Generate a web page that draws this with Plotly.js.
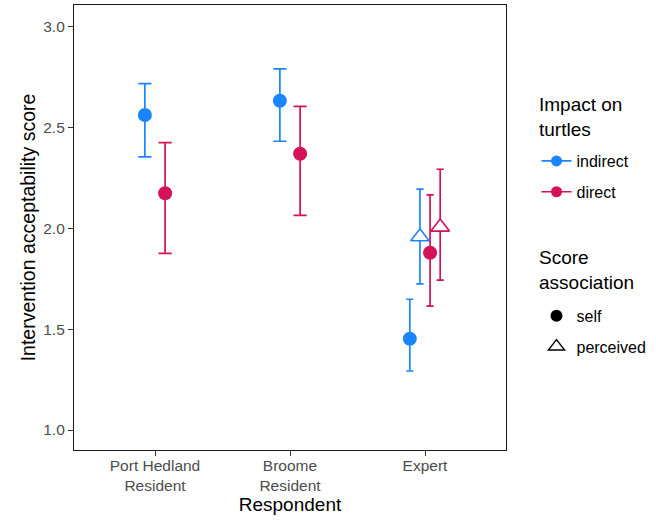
<!DOCTYPE html>
<html>
<head>
<meta charset="utf-8">
<script src="https://cdn.plot.ly/plotly-3.0.1.min.js"></script>
<style>
html,body{margin:0;padding:0;background:#fff;}
#chart{width:656px;height:522px;}
</style>
</head>
<body>
<div id="chart"></div>
<script>
// ---- data ----
var respondents = ['Port Hedland<br>Resident', 'Broome<br>Resident', 'Expert'];
var impactLevels = ['indirect', 'direct'];
var scoreLevels = ['self', 'perceived'];
var impactTitle = 'Impact on<br>turtles';
var scoreTitle = 'Score<br>association';

// indirect impact, self score
var indirectSelfMean  = [2.563, 2.634, 1.453];
var indirectSelfLow   = [2.355, 2.433, 1.293];
var indirectSelfHigh  = [2.719, 2.792, 1.649];
// direct impact, self score
var directSelfMean    = [2.175, 2.371, 1.880];
var directSelfLow     = [1.877, 2.065, 1.615];
var directSelfHigh    = [2.426, 2.606, 2.167];
// indirect impact, perceived score (Expert only)
var indirectPercMean  = [null, null, 1.959];
var indirectPercLow   = [null, null, 1.725];
var indirectPercHigh  = [null, null, 2.195];
// direct impact, perceived score (Expert only)
var directPercMean    = [null, null, 2.007];
var directPercLow     = [null, null, 1.744];
var directPercHigh    = [null, null, 2.294];

var colors = {indirect: '#1A85FF', direct: '#D41159'};

var series = [
  {impact: 'indirect', score: 'self',      mean: indirectSelfMean, low: indirectSelfLow, high: indirectSelfHigh},
  {impact: 'indirect', score: 'perceived', mean: indirectPercMean, low: indirectPercLow, high: indirectPercHigh},
  {impact: 'direct',   score: 'self',      mean: directSelfMean,   low: directSelfLow,   high: directSelfHigh},
  {impact: 'direct',   score: 'perceived', mean: directPercMean,   low: directPercLow,   high: directPercHigh}
];

var dodgeWidth = 0.3;
var traces = [];

respondents.forEach(function (resp, i) {
  var present = series.filter(function (s) { return s.mean[i] !== null; });
  var n = present.length;
  var slot = dodgeWidth / n;
  present.forEach(function (s, k) {
    var off = -dodgeWidth / 2 + slot * (k + 0.5);
    var col = colors[s.impact];
    var isSelf = s.score === 'self';
    traces.push({
      type: 'scatter',
      mode: 'markers',
      x: [i + off],
      y: [s.mean[i]],
      showlegend: false,
      hoverinfo: 'x+y',
      error_y: {
        type: 'data',
        symmetric: false,
        array: [s.high[i] - s.mean[i]],
        arrayminus: [s.mean[i] - s.low[i]],
        color: col,
        thickness: 1.7,
        width: n > 2 ? 3.6 : 6.6
      },
      marker: isSelf ?
        {symbol: 'circle', size: 14, color: col, line: {width: 0}} :
        {symbol: 'triangle-up', size: 16, color: 'white', line: {color: col, width: 1.6}}
    });
  });
});

// legend entries: colour (impact)
impactLevels.forEach(function (lv) {
  traces.push({
    type: 'scatter', mode: 'lines+markers', x: [null], y: [null],
    name: lv, legend: 'legend', legendgroup: 'imp_' + lv,
    line: {color: colors[lv], width: 1.7},
    marker: {symbol: 'circle', size: 11, color: colors[lv]}
  });
});
// legend entries: shape (score association)
scoreLevels.forEach(function (lv) {
  traces.push({
    type: 'scatter', mode: 'markers', x: [null], y: [null],
    name: lv, legend: 'legend2', legendgroup: 'sc_' + lv,
    marker: lv === 'self' ?
      {symbol: 'circle', size: 12, color: 'black'} :
      {symbol: 'triangle-up', size: 14, color: 'white', line: {color: 'black', width: 1.4}}
  });
});

var fontFam = '"Liberation Sans", Arial, Helvetica, sans-serif';

var layout = {
  width: 656, height: 522,
  margin: {l: 74, r: 147, t: 5, b: 72},
  paper_bgcolor: 'white', plot_bgcolor: 'white',
  font: {family: fontFam, color: '#000'},
  xaxis: {
    range: [-0.6, 2.6],
    tickmode: 'array', tickvals: [0, 1, 2], ticktext: respondents,
    showgrid: false, zeroline: false,
    showline: true, mirror: true, linecolor: '#1a1a1a', linewidth: 1.1,
    ticks: 'outside', ticklen: 5, tickwidth: 1, tickcolor: '#333',
    ticklabelstandoff: -4,
    tickfont: {size: 15.5, color: '#4D4D4D'},
    title: {text: 'Respondent', font: {size: 19, color: '#000'}, standoff: 0}
  },
  yaxis: {
    range: [0.901, 3.109],
    tickmode: 'array', tickvals: [1.0, 1.5, 2.0, 2.5, 3.0],
    ticktext: ['1.0', '1.5', '2.0', '2.5', '3.0'],
    showgrid: false, zeroline: false,
    showline: true, mirror: true, linecolor: '#1a1a1a', linewidth: 1.1,
    ticks: 'outside', ticklen: 5, tickwidth: 1, tickcolor: '#333',
    tickfont: {size: 15.5, color: '#4D4D4D'},
    title: {text: 'Intervention acceptability score', font: {size: 19.5, color: '#000'}, standoff: 2}
  },
  legend: {
    x: 1.0706, xanchor: 'left', y: 0.6875, yanchor: 'top',
    font: {size: 16}, traceorder: 'grouped', tracegroupgap: 7,
    bgcolor: 'rgba(0,0,0,0)'
  },
  legend2: {
    x: 1.0706, xanchor: 'left', y: 0.3397, yanchor: 'top',
    font: {size: 16}, traceorder: 'grouped', tracegroupgap: 7,
    bgcolor: 'rgba(0,0,0,0)'
  },
  annotations: [
    {xref: 'paper', yref: 'paper', x: 1.0713, y: 0.7475, xanchor: 'left', yanchor: 'middle',
     align: 'left', showarrow: false, text: impactTitle, font: {size: 19, color: '#000'}},
    {xref: 'paper', yref: 'paper', x: 1.0713, y: 0.4056, xanchor: 'left', yanchor: 'middle',
     align: 'left', showarrow: false, text: scoreTitle, font: {size: 19, color: '#000'}}
  ]
};

Plotly.newPlot('chart', traces, layout, {displayModeBar: false, staticPlot: true});
</script>
</body>
</html>
